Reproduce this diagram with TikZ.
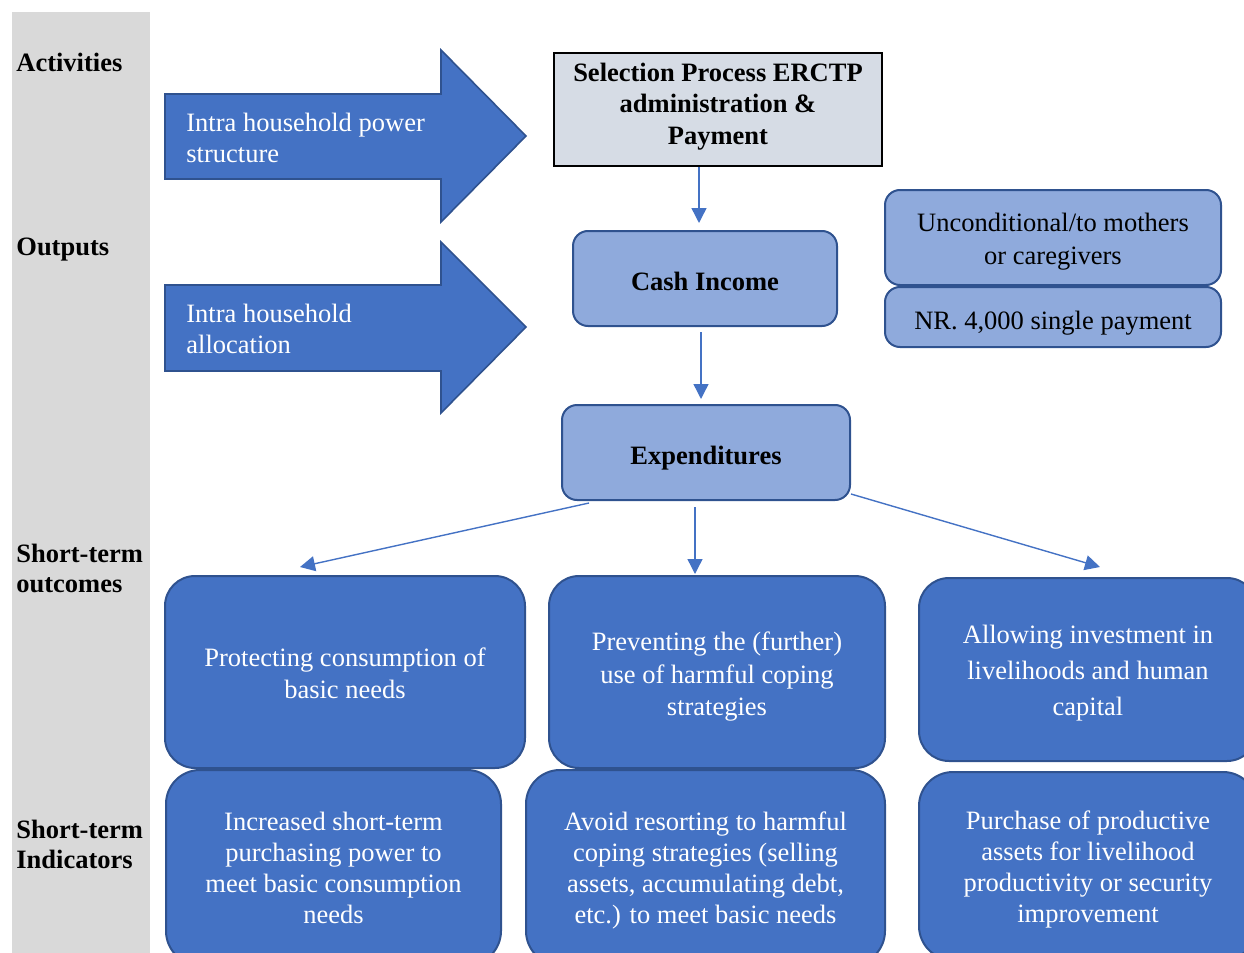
\documentclass[tikz,border=0pt]{standalone}
\usepackage{fontspec}
\setmainfont{Liberation Serif}
\usetikzlibrary{arrows.meta,calc}
\definecolor{midblue}{HTML}{4472C4}
\definecolor{darkblue}{HTML}{2F528F}
\definecolor{lightblue}{HTML}{8FAADC}
\definecolor{palegray}{HTML}{D6DCE5}
\definecolor{sidegray}{HTML}{D9D9D9}
\tikzset{
  sidelabel/.style={anchor=west, align=left, inner sep=0pt, font=\fontsize{13.25}{15}\selectfont\bfseries},
  blockarrow/.style={draw=darkblue, line width=0.8pt, fill=midblue},
  arrowtext/.style={anchor=west, align=left, inner sep=0pt, text=white},
  lightbox/.style={draw=darkblue, line width=1pt, fill=lightblue, rounded corners=7.5pt},
  darkbox/.style={draw=darkblue, line width=1pt, fill=midblue, rounded corners=15pt},
  selbox/.style={draw=black, line width=1pt, fill=palegray},
  boxtext/.style={align=center, inner sep=0pt},
  whitetext/.style={boxtext, text=white},
  conn/.style={draw=midblue, line width=0.7pt, -{Triangle[width=7.5pt,length=7.5pt]}}
}
\begin{document}
\begin{tikzpicture}[x=0.5pt,y=-0.5pt,font=\fontsize{13.25}{15.5}\selectfont]
\useasboundingbox (0,0) rectangle (1244,953);
\clip (0,0) rectangle (1244,953);
\fill[sidegray] (12,12) rectangle (150,953);

% side labels
\node[sidelabel] (lact) at (16,62) {Activities};
\node[sidelabel] (lout) at (16,250) {Outputs};
\node[sidelabel] (lsto) at (16,568) {Short-term\\outcomes};
\node[sidelabel] (lsti) at (16,844) {Short-term\\Indicators};

% block arrows
\draw[blockarrow] (165,94) -- (441,94) -- (441,50) -- (526,136) -- (441,222) -- (441,179) -- (165,179) -- cycle;
\node[arrowtext] (a1) at (186,138) {Intra household power\\structure};
\draw[blockarrow] (165,285) -- (441,285) -- (441,242) -- (526,327) -- (441,413) -- (441,371) -- (165,371) -- cycle;
\node[arrowtext] (a2) at (186,329) {Intra household\\allocation};

% top boxes
\node[selbox, minimum width=164pt, minimum height=56.5pt] (sel) at (718,109.5) {};
\node[boxtext, font=\fontsize{13.25}{15.75}\selectfont\bfseries] (selT) at ([yshift=1.5pt]sel.center) {Selection Process ERCTP\\administration \&\\Payment};
\node[lightbox, minimum width=132pt, minimum height=47.5pt] (cash) at (705,278.5) {};
\node[boxtext, font=\fontsize{13.25}{15.5}\selectfont\bfseries] (cashT) at ([yshift=-1.5pt]cash.center) {Cash Income};
\node[lightbox, minimum width=144pt, minimum height=47.5pt] (exp) at (706,452.5) {};
\node[boxtext, font=\fontsize{13.25}{15.5}\selectfont\bfseries] (expT) at ([yshift=-3pt]exp.center) {Expenditures};
\node[lightbox, minimum width=168pt, minimum height=47.5pt] (unc) at (1053,237.5) {};
\node[boxtext, font=\fontsize{13.25}{16.5}\selectfont] (uncT) at ([yshift=-2.25pt]unc.center) {Unconditional/to mothers\\or caregivers};
\node[lightbox, minimum width=168pt, minimum height=30pt] (nr) at (1053,317) {};
\node[boxtext] (nrT) at ([yshift=-3pt]nr.center) {NR. 4,000 single payment};

% outcome boxes
\node[darkbox, minimum width=180pt, minimum height=96pt] (o1) at (345,672) {};
\node[whitetext, font=\fontsize{13.25}{16}\selectfont] (o1T) at ([yshift=-0.5pt]o1.center) {Protecting consumption of\\basic needs};
\node[darkbox, minimum width=168pt, minimum height=96pt] (o2) at (717,672) {};
\node[whitetext, font=\fontsize{13.25}{16.25}\selectfont] (o2T) at ([yshift=-2.5pt]o2.center) {Preventing the (further)\\use of harmful coping\\strategies};
\node[darkbox, minimum width=169pt, minimum height=91.5pt] (o3) at (1088,669.5) {};
\node[whitetext, font=\fontsize{13.25}{18}\selectfont] (o3T) at ([yshift=-2pt]o3.center) {Allowing investment in\\livelihoods and human\\capital};

% indicator boxes
\node[darkbox, rounded corners=17pt, minimum width=167.5pt, minimum height=97.5pt] (i1) at (333.5,867.5) {};
\node[whitetext] (i1T) at (i1.center) {Increased short-term\\purchasing power to\\meet basic consumption\\needs};
\node[darkbox, rounded corners=17pt, minimum width=179.5pt, minimum height=97.5pt] (i2) at (705.5,867.5) {};
\node[whitetext] (i2T) at ([yshift=-1.5pt]i2.center) {Avoid resorting to harmful\\coping strategies (selling\\assets, accumulating debt,\\etc.) to meet basic needs};
\node[darkbox, rounded corners=17pt, minimum width=169pt, minimum height=94pt] (i3) at (1088,866) {};
\node[whitetext] (i3T) at ([yshift=-1.5pt]i3.center) {Purchase of productive\\assets for livelihood\\productivity or security\\improvement};

% connectors
\coordinate (v1) at (699,0);
\coordinate (v2) at (695,0);
\coordinate (v3) at (701,0);
\draw[conn, shorten >=3.5pt] (sel.south -| v1) -- (cash.north -| v1);
\draw[conn, shorten <=2.5pt, shorten >=2.5pt] (cash.south -| v3) -- (exp.north -| v3);
\draw[conn, shorten <=3pt, shorten >=0.5pt] (exp.south -| v2) -- (o2.north -| v2);
\draw[conn] ($(exp.south west)+(28,2)$) -- ($(o1.north)+(-45,-8)$);
\draw[conn] ($(exp.south east)+(0,-7)$) -- ($(o3.north)+(12,-10)$);
\end{tikzpicture}
\end{document}
